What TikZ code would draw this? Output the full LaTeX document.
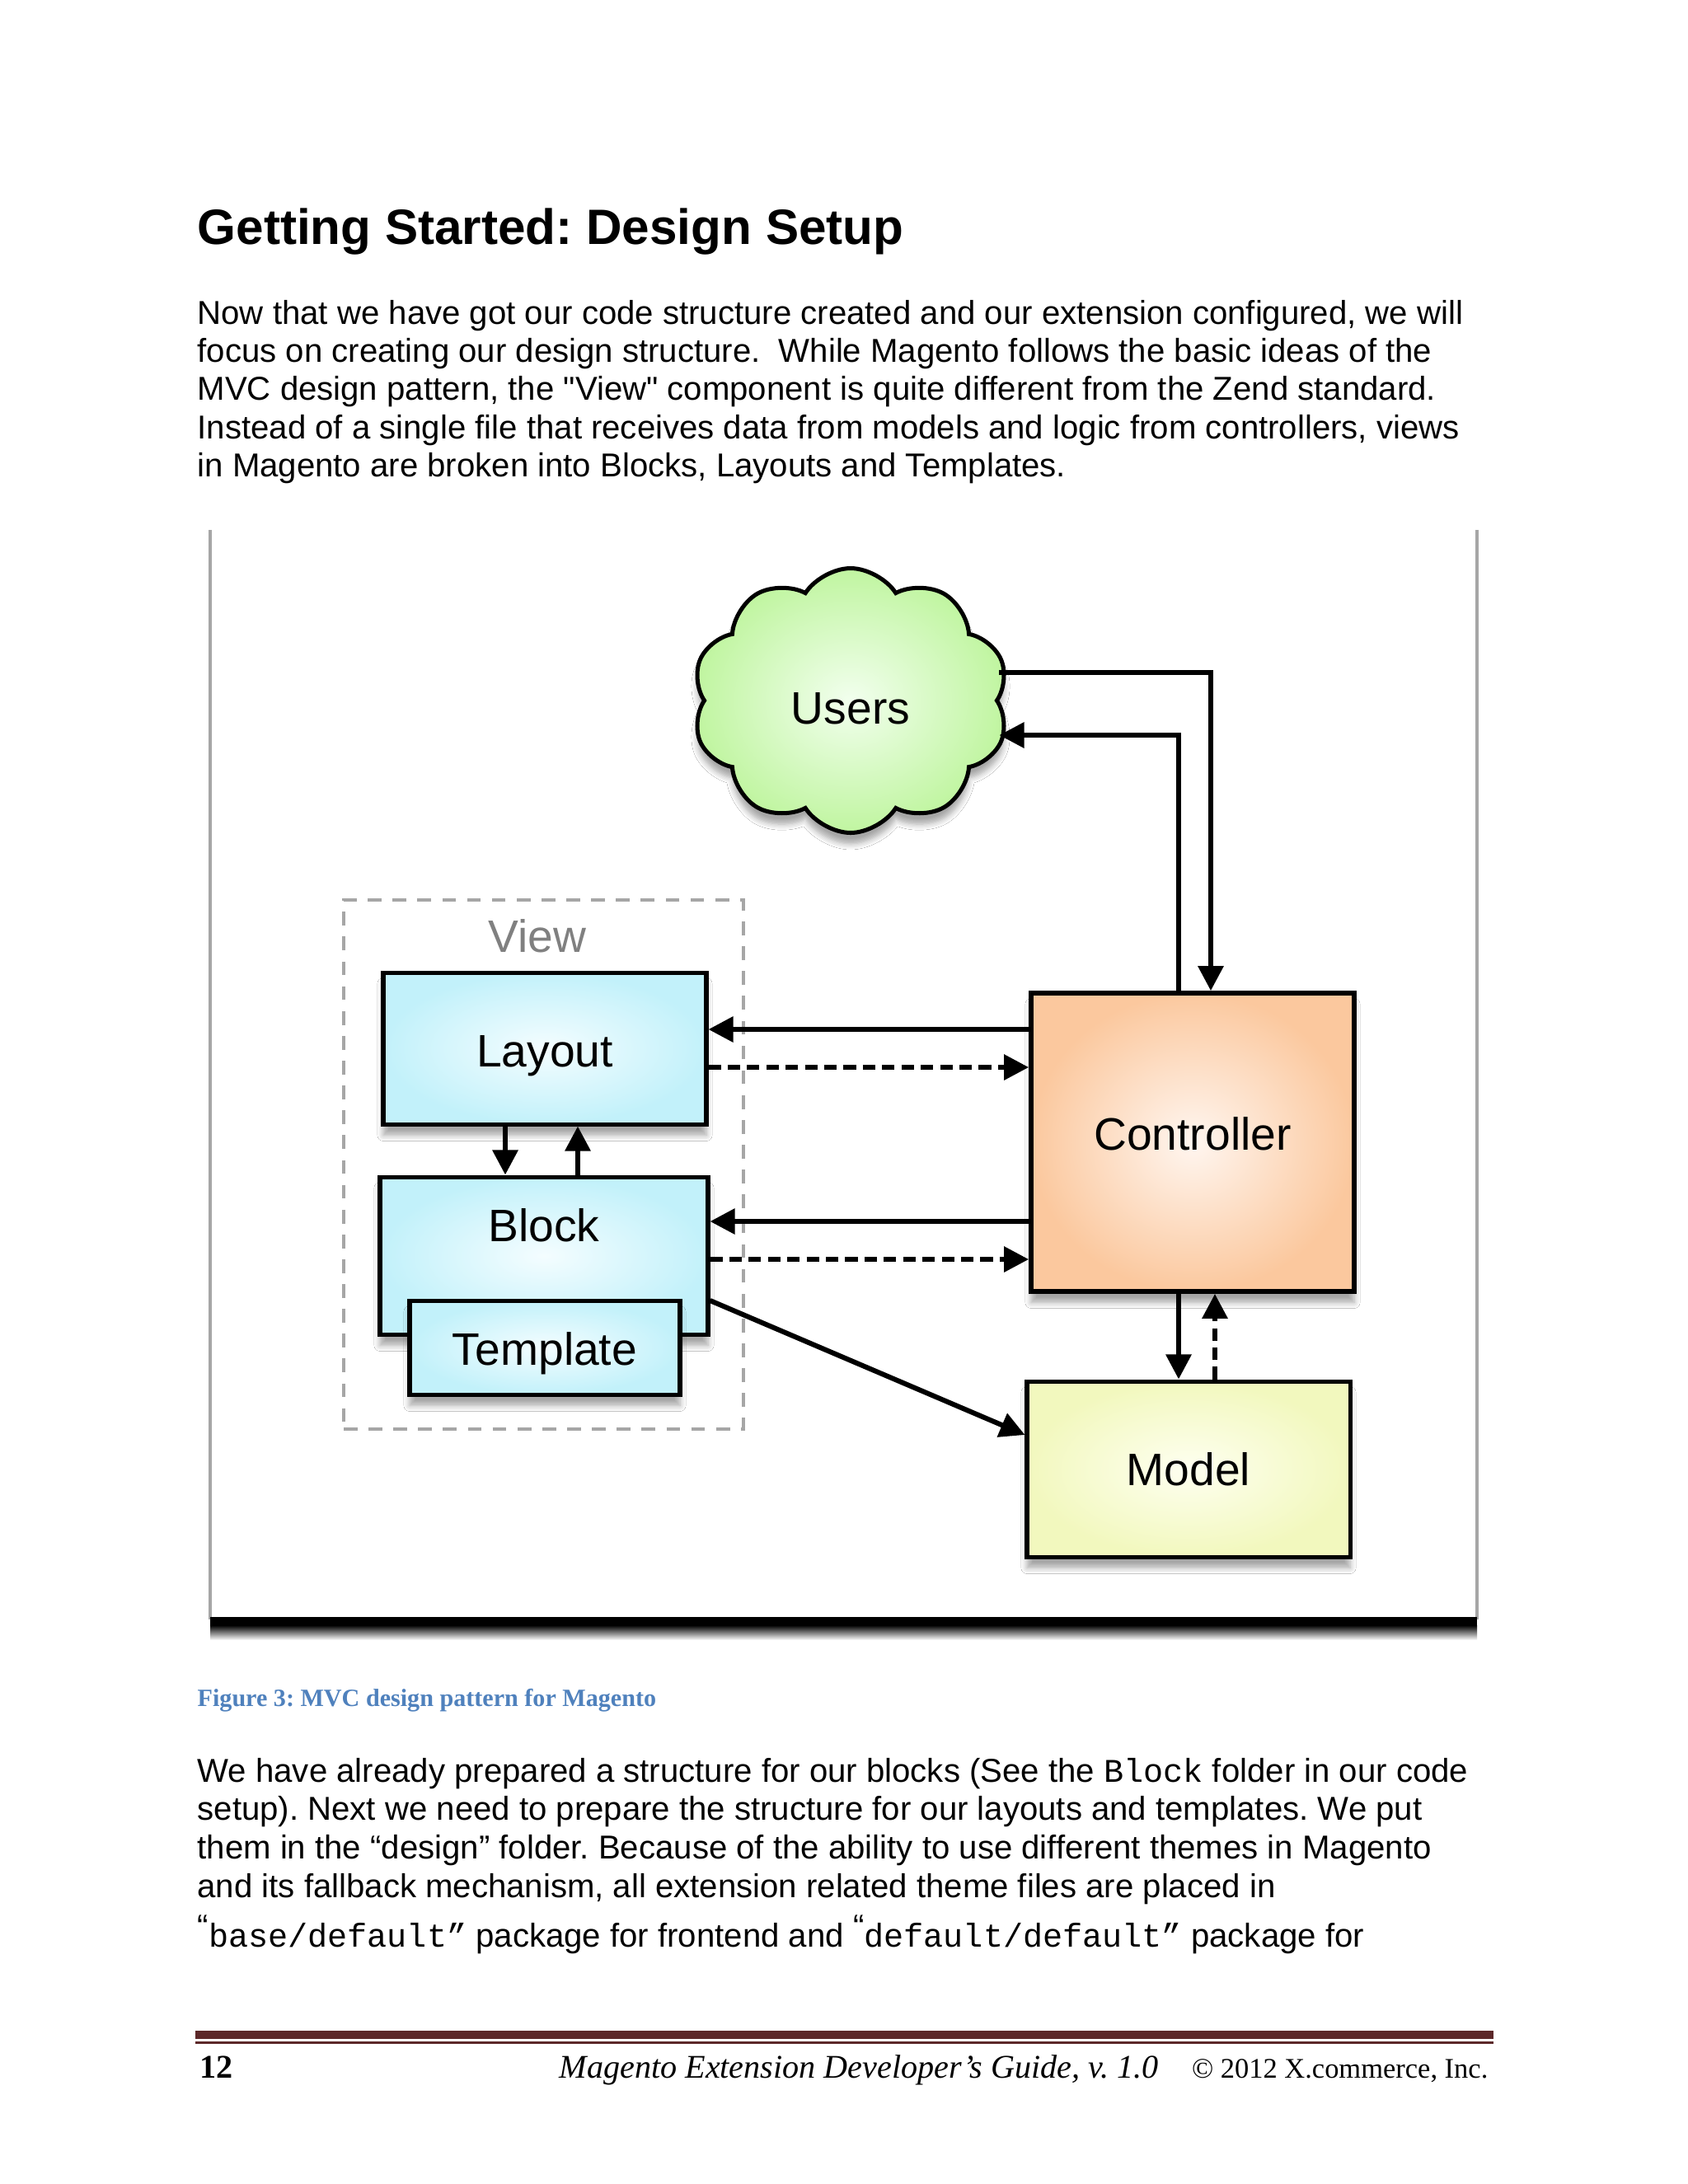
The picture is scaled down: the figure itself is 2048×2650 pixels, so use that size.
\documentclass[tikz,border=0pt]{standalone}
\usepackage{fontspec}
\setmainfont{Liberation Sans}
\newfontfamily\plainsans{Liberation Sans}
\newfontfamily\docserif{Liberation Serif}
\newfontfamily\docmono{Liberation Mono}
\usetikzlibrary{arrows.meta,shapes.symbols,shadows.blur,positioning}
\frenchspacing

\definecolor{viewedge}{HTML}{C2F1FA}
\definecolor{viewmid}{HTML}{F4FDFF}
\definecolor{ctrledge}{HTML}{FBC89E}
\definecolor{ctrlmid}{HTML}{FFF6F0}
\definecolor{modeledge}{HTML}{F2F8BE}
\definecolor{modelmid}{HTML}{FEFFF0}
\definecolor{cloudedge}{HTML}{C0F5A0}
\definecolor{cloudmid}{HTML}{F2FFEE}
\definecolor{captionblue}{HTML}{4F81BD}
\definecolor{rulecol}{HTML}{5C2829}
\def\pxl{0.29883pt}

\tikzset{
    box/.style={draw=black, line width=1.5pt, font=\fontsize{16.5}{19}\selectfont,
        blur shadow={shadow xshift=0pt, shadow yshift=-4pt, shadow blur steps=6, shadow opacity=35}},
    viewpart/.style={box, inner color=viewmid, outer color=viewedge},
    arr/.style={-{Triangle[length=9pt,width=9pt]}, line width=1.8pt},
    darr/.style={arr, dash pattern=on 4.5pt off 2.5pt},
    bodytext/.style={anchor=base west, inner sep=0pt, font=\fontsize{12}{13.8}\selectfont}
}

\begin{document}
\begin{tikzpicture}[x=0.29883pt, y=-0.29883pt]
    \useasboundingbox (0,0) rectangle (2048,2650);
    \fill[white] (0,0) rectangle (2048,2650);

    % heading and first paragraph
    \node[anchor=base west, inner sep=0pt, font=\bfseries\fontsize{18}{21}\selectfont] (title) at (239,296) {Getting Started: Design Setup};
    \node[bodytext] (body1) at (239,393) {Now that we have got our code structure created and our extension configured, we will};
    \node[bodytext] (body2) at (239,439) {focus on creating our design structure.\ \ While Magento follows the basic ideas of the};
    \node[bodytext] (body3) at (239,485) {MVC design pattern, the {\plainsans "View"} component is quite different from the Zend standard.};
    \node[bodytext] (body4) at (239,532) {Instead of a single file that receives data from models and logic from controllers, views};
    \node[bodytext] (body5) at (239,578) {in Magento are broken into Blocks, Layouts and Templates.};

    % figure frame
    \fill[white] (255,643) rectangle (1792,1965);
    \draw[black!35, line width=1.2pt] (255,643) -- (255,1965);
    \draw[black!35, line width=1.2pt] (1792,643) -- (1792,1965);
    \fill[black] (255,1962) rectangle (1792,1972);
    \shade[top color=black, bottom color=white] (255,1972) rectangle (1792,1990);

    % view group
    \node[draw=black!35, line width=1.2pt, dash pattern=on 5pt off 4pt,
        minimum width=485*\pxl, minimum height=642*\pxl] (view) at (659.5,1413) {};
    \node[text=black!50, font=\fontsize{16.5}{19}\selectfont] (viewtxt) at (652,1136) {View};

    \node[viewpart, minimum width=392*\pxl, minimum height=184*\pxl, text height=17pt] (layout) at (661,1272) {Layout};
    \node[viewpart, minimum width=398*\pxl, minimum height=191*\pxl] (block) at (660,1523.5) {};
    \node[font=\fontsize{16.5}{19}\selectfont] (blocktxt) at (660,1487) {Block};
    \node[viewpart, minimum width=328*\pxl, minimum height=114*\pxl, text height=16pt] (template) at (661,1635) {Template};

    % controller, model, users
    \node[box, line width=1.7pt, inner color=ctrlmid, outer color=ctrledge,
        minimum width=392*\pxl, minimum height=362*\pxl, text depth=6pt] (ctrl) at (1447,1386) {Controller};
    \node[box, inner color=modelmid, outer color=modeledge,
        minimum width=392*\pxl, minimum height=213*\pxl] (model) at (1442,1782.5) {Model};
    \node[box, cloud, cloud puffs=10, cloud puff arc=115, aspect=1.2,
        inner color=cloudmid, outer color=cloudedge, text height=17pt,
        minimum width=384*\pxl, minimum height=321*\pxl] (users) at (1032,850) {Users};

    % connectors
    \draw[arr] (users.east |- 0,816) -| (1469,0 |- ctrl.north);
    \draw[arr] (1430,0 |- ctrl.north) |- (users.east |- 0,892);
    \draw[arr] (ctrl.west |- 0,1249) -- (layout.east |- 0,1249);
    \draw[darr] (layout.east |- 0,1295) -- (ctrl.west |- 0,1295);
    \draw[arr] (ctrl.west |- 0,1482) -- (block.east |- 0,1482);
    \draw[darr] (block.east |- 0,1528) -- (ctrl.west |- 0,1528);
    \draw[arr] (613,0 |- layout.south) -- (613,0 |- block.north);
    \draw[arr] (701,0 |- block.north) -- (701,0 |- layout.south);
    \draw[arr] (block.east |- 0,1578) -- (model.west |- 0,1741);
    \draw[arr] (1430,0 |- ctrl.south) -- (1430,0 |- model.north);
    \draw[darr] (1474,0 |- model.north) -- (1474,0 |- ctrl.south);

    % caption and second paragraph
    \node[anchor=base west, inner sep=0pt, text=captionblue, font=\docserif\bfseries\fontsize{9}{11}\selectfont] (caption) at (239,2070) {Figure 3: MVC design pattern for Magento};
    \node[bodytext] (next1) at (239,2162) {We have already prepared a structure for our blocks (See the {\docmono Block} folder in our code};
    \node[bodytext] (next2) at (239,2208) {setup). Next we need to prepare the structure for our layouts and templates. We put};
    \node[bodytext] (next3) at (239,2255) {them in the “design” folder. Because of the ability to use different themes in Magento};
    \node[bodytext] (next4) at (239,2302) {and its fallback mechanism, all extension related theme files are placed in};
    \node[bodytext] (next5) at (239,2362) {\raisebox{3pt}{“}{\docmono base/default”} package for frontend and \raisebox{3pt}{“}{\docmono default/default”} package for};

    % footer
    \fill[rulecol] (237,2464) rectangle (1812,2474);
    \fill[rulecol] (237,2477) rectangle (1812,2480);
    \node[anchor=base west, inner sep=0pt, font=\docserif\bfseries\fontsize{12}{14}\selectfont] (pagenum) at (242,2521) {12};
    \node[anchor=base west, inner sep=0pt, font=\docserif\itshape\fontsize{12}{14}\selectfont] (guide) at (678,2521) {Magento Extension Developer’s Guide, v. 1.0};
    \node[anchor=base east, inner sep=0pt, font=\docserif\fontsize{10.3}{12}\selectfont] (copy) at (1806,2521) {© 2012 X.commerce, Inc.};
\end{tikzpicture}
\end{document}
